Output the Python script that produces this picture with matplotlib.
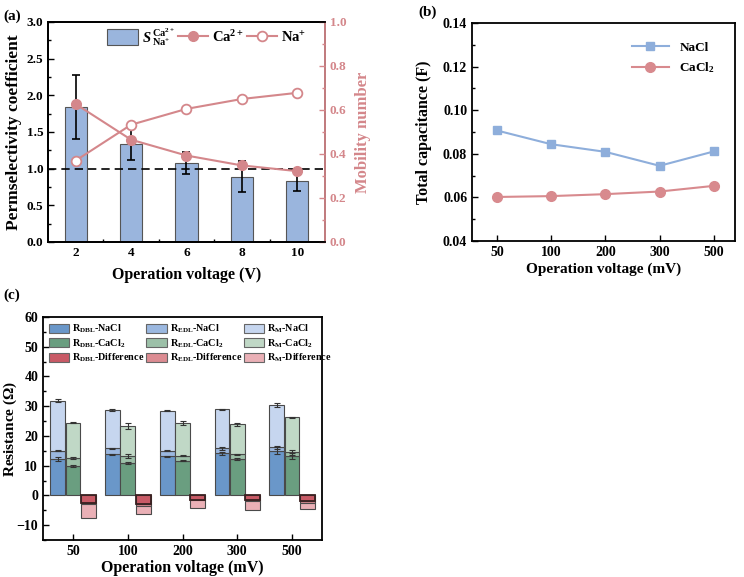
import matplotlib
matplotlib.use("Agg")
import matplotlib.pyplot as plt
import numpy as np
from matplotlib.patches import Patch
from matplotlib.lines import Line2D

plt.rcParams['font.family'] = ['Liberation Serif', 'DejaVu Serif']
plt.rcParams['font.weight'] = 'bold'
plt.rcParams['axes.labelweight'] = 'bold'
plt.rcParams['mathtext.fontset'] = 'custom'
plt.rcParams['mathtext.rm'] = 'Liberation Serif:bold'
plt.rcParams['mathtext.it'] = 'Liberation Serif:italic:bold'
plt.rcParams['mathtext.bf'] = 'Liberation Serif:bold'
plt.rcParams['mathtext.default'] = 'rm'

# ---------------- data (a)
volt_a = [2, 4, 6, 8, 10]
perm = [1.84, 1.34, 1.08, 0.89, 0.83]
perm_err = [0.44, 0.22, 0.15, 0.21, 0.14]
mob_ca = [0.627, 0.465, 0.393, 0.348, 0.322]
mob_na = [0.370, 0.533, 0.605, 0.650, 0.678]

# ---------------- data (b)
volt_mv = ['50', '100', '200', '300', '500']
cap_nacl = [0.0907, 0.0844, 0.0809, 0.0745, 0.0811]
cap_cacl2 = [0.0602, 0.0606, 0.0615, 0.0627, 0.0653]

# ---------------- data (c)
dbl_nacl = [12.3, 13.8, 13.1, 14.1, 15.0]
edl_nacl = [2.7, 2.0, 2.0, 1.7, 1.2]
m_nacl = [16.8, 12.9, 13.4, 13.1, 14.2]
dbl_nacl_err = [0.6, 0.2, 0.2, 0.5, 1.2]
edl_nacl_err = [0.2, 0.2, 0.2, 0.4, 0.5]
m_nacl_err = [0.5, 0.2, 0.2, 0.2, 0.6]

dbl_cacl2 = [9.8, 10.8, 11.7, 12.2, 13.2]
edl_cacl2 = [2.8, 2.5, 1.7, 1.6, 1.3]
m_cacl2 = [11.9, 10.0, 10.9, 10.1, 11.8]
dbl_cacl2_err = [0.3, 0.4, 0.2, 0.3, 1.0]
edl_cacl2_err = [0.2, 0.6, 0.2, 0.2, 0.8]
m_cacl2_err = [0.3, 0.9, 0.6, 0.4, 0.2]

dbl_diff = [-2.6, -2.8, -1.4, -1.7, -2.0]
edl_diff = [-0.2, -0.8, -0.3, -0.2, -0.4]
m_diff = [-4.8, -2.8, -2.5, -3.0, -2.2]

PINK = '#d4878b'
BLUE_BAR = '#9ab5dd'

fig = plt.figure(figsize=(7.44, 5.77), dpi=100)

def style_ax(ax, size=9.5):
    ax.tick_params(direction='in', which='both', labelsize=size)
    ax.tick_params(which='major', length=4, width=1)
    ax.tick_params(which='minor', length=2, width=1)
    for s in ax.spines.values():
        s.set_linewidth(1.3)

# ================= (a)
ax = fig.add_axes([0.0645, 0.5806, 0.3723, 0.3813])
ax.bar(volt_a, perm, width=0.8, color=BLUE_BAR, edgecolor='#555555', linewidth=0.8, zorder=2)
ax.errorbar(volt_a, perm, yerr=perm_err, fmt='none', ecolor='black', elinewidth=1.2, capsize=3, capthick=1.2, zorder=3)
ax.plot([1, 11], [1.0, 1.0], color='black', linestyle=(0, (5, 3)), linewidth=1.2, zorder=3)
ax.set_xlim(1, 11)
ax.set_ylim(0, 3.0)
ax.set_xticks(volt_a)
ax.set_yticks(np.arange(0, 3.01, 0.5))
ax.set_yticks(np.arange(0.25, 3.0, 0.5), minor=True)
ax.set_xticks([3, 5, 7, 9], minor=True)
style_ax(ax)
ax.set_xlabel('Operation voltage (V)', fontsize=11.5)
ax.set_ylabel('Permselectivity coefficient', fontsize=12.5)
ax.yaxis.set_label_coords(-0.094, 0.5)
ax.xaxis.set_label_coords(0.5, -0.114)
ax.set_yticklabels(['%.1f' % v for v in np.arange(0, 3.01, 0.5)])

ax2 = ax.twinx()
ax2.plot(volt_a, mob_ca, color=PINK, marker='o', markersize=7, linewidth=1.5, markerfacecolor=PINK, markeredgecolor=PINK, zorder=4)
ax2.plot(volt_a, mob_na, color=PINK, marker='o', markersize=7, linewidth=1.5, markerfacecolor='white', markeredgecolor=PINK, markeredgewidth=1.3, zorder=4)
ax2.set_ylim(0, 1.0)
ax2.set_yticks(np.arange(0, 1.01, 0.2))
ax2.set_yticks(np.arange(0.1, 1.0, 0.2), minor=True)
style_ax(ax2)
ax2.tick_params(axis='y', which='both', colors=PINK, labelcolor=PINK)
ax2.spines['right'].set_color(PINK)
ax2.set_ylabel('Mobility number', fontsize=12, color=PINK)
ax2.yaxis.set_label_coords(1.108, 0.5)
ax2.set_yticklabels(['%.1f' % v for v in np.arange(0, 1.01, 0.2)])

h_bar = Patch(facecolor=BLUE_BAR, edgecolor='#555555', linewidth=0.8)
h_ca = Line2D([], [], color=PINK, marker='o', markersize=7, markerfacecolor=PINK, linewidth=1.5)
h_na = Line2D([], [], color=PINK, marker='o', markersize=7, markerfacecolor='white', markeredgewidth=1.3, linewidth=1.5)
ax2.legend([h_bar, h_ca, h_na], [r'$\mathit{S}\,^{\mathrm{Ca}^{2+}}_{\mathrm{Na}^{+}}$', r'Ca$^{2+}$', r'Na$^{+}$'],
           loc='upper right', ncol=3, frameon=False, fontsize=10.5, handlelength=2.1, handleheight=1.3,
           columnspacing=0.2, handletextpad=0.25, bbox_to_anchor=(0.98, 1.04))
fig.text(0.005, 0.965, '(a)', fontsize=11, fontweight='bold')

# ================= (b)
bx = fig.add_axes([0.6344, 0.5823, 0.3535, 0.3778])
xb = np.arange(len(volt_mv))
bx.plot(xb, cap_nacl, color='#8eaedb', marker='s', markersize=6, linewidth=1.5, label='NaCl')
bx.plot(xb, cap_cacl2, color='#d88a8e', marker='o', markersize=7, linewidth=1.5, label=r'CaCl$_{2}$')
bx.set_xlim(-0.46, 4.39)
bx.set_ylim(0.04, 0.14)
bx.set_xticks(xb)
bx.set_xticklabels(volt_mv)
bx.set_yticks(np.arange(0.04, 0.1401, 0.02))
bx.set_yticks(np.arange(0.05, 0.14, 0.02), minor=True)
bx.set_yticklabels(['%.2f' % v for v in np.arange(0.04, 0.1401, 0.02)])
style_ax(bx, 10)
bx.set_xlabel('Operation voltage (mV)', fontsize=11)
bx.set_ylabel('Total capacitance (F)', fontsize=11.5)
bx.yaxis.set_label_coords(-0.152, 0.5)
bx.xaxis.set_label_coords(0.5, -0.10)
bx.legend(loc='upper right', frameon=False, fontsize=9.5, handlelength=2.8, bbox_to_anchor=(0.97, 0.97))
fig.text(0.562, 0.972, '(b)', fontsize=11, fontweight='bold')

# ================= (c)
cx = fig.add_axes([0.0578, 0.0641, 0.375, 0.3865])
xc = np.arange(len(volt_mv))
w = 0.27
off = 0.28
cols_nacl = ['#6a97c9', '#9bb8e0', '#c6d6ef']
cols_cacl2 = ['#6a9e80', '#9cc0a8', '#c0d8c6']
cols_diff = ['#c95a66', '#dc8c92', '#eab0b6']
ek = dict(fmt='none', ecolor='#333333', elinewidth=0.8, capsize=2, capthick=0.8, zorder=4)
bk = dict(width=w, edgecolor='#4a4a4a', linewidth=0.8, zorder=2)

for segs, errs, cols, name in [
        ((dbl_nacl, edl_nacl, m_nacl), (dbl_nacl_err, edl_nacl_err, m_nacl_err), cols_nacl, 'NaCl'),
        ((dbl_cacl2, edl_cacl2, m_cacl2), (dbl_cacl2_err, edl_cacl2_err, m_cacl2_err), cols_cacl2, 'CaCl2')]:
    xpos = xc - off if name == 'NaCl' else xc
    bottom = np.zeros(5)
    for seg, err, col in zip(segs, errs, cols):
        seg = np.array(seg)
        cx.bar(xpos, seg, bottom=bottom, color=col, **bk)
        bottom = bottom + seg
        cx.errorbar(xpos, bottom, yerr=err, **ek)

bottom = np.zeros(5)
for seg, col in zip((dbl_diff, edl_diff, m_diff), cols_diff):
    seg = np.array(seg)
    cx.bar(xc + off, seg, bottom=bottom, color=col, **bk)
    bottom = bottom + seg
cx.bar(xc + off, np.array(dbl_diff), color='none', width=w, edgecolor='#3a2020', linewidth=1.3, zorder=3)

cx.set_xlim(-0.55, 4.55)
cx.set_ylim(-15, 60)
cx.set_xticks(xc)
cx.set_xticklabels(volt_mv)
cx.set_yticks(np.arange(-10, 61, 10))
cx.set_yticks(np.arange(-15, 60, 5), minor=True)
style_ax(cx, 10)
cx.set_xlabel('Operation voltage (mV)', fontsize=11.5)
cx.set_ylabel(r'Resistance ($\Omega$)', fontsize=11)
cx.yaxis.set_label_coords(-0.085, 0.5)
cx.xaxis.set_label_coords(0.5, -0.09)

lab_rows = ['NaCl', r'CaCl$_{2}$', 'Difference']
subs = ['DBL', 'EDL', 'M']
col_sets = [cols_nacl, cols_cacl2, cols_diff]
hs, ls = [], []
for j, sub in enumerate(subs):
    for i, row in enumerate(lab_rows):
        hs.append(Patch(facecolor=col_sets[i][j], edgecolor='#666666', linewidth=0.8))
        ls.append(r'R$_{\mathrm{%s}}$-%s' % (sub, row))
cx.legend(hs, ls, ncol=3, loc='upper left', frameon=False, fontsize=7.3,
          handlelength=2.0, handleheight=1.0, columnspacing=0.2, handletextpad=0.3,
          labelspacing=0.2, bbox_to_anchor=(0.0, 1.0), borderaxespad=0.15)
fig.text(0.005, 0.482, '(c)', fontsize=11, fontweight='bold')

fig.savefig('out.png', dpi=100)
